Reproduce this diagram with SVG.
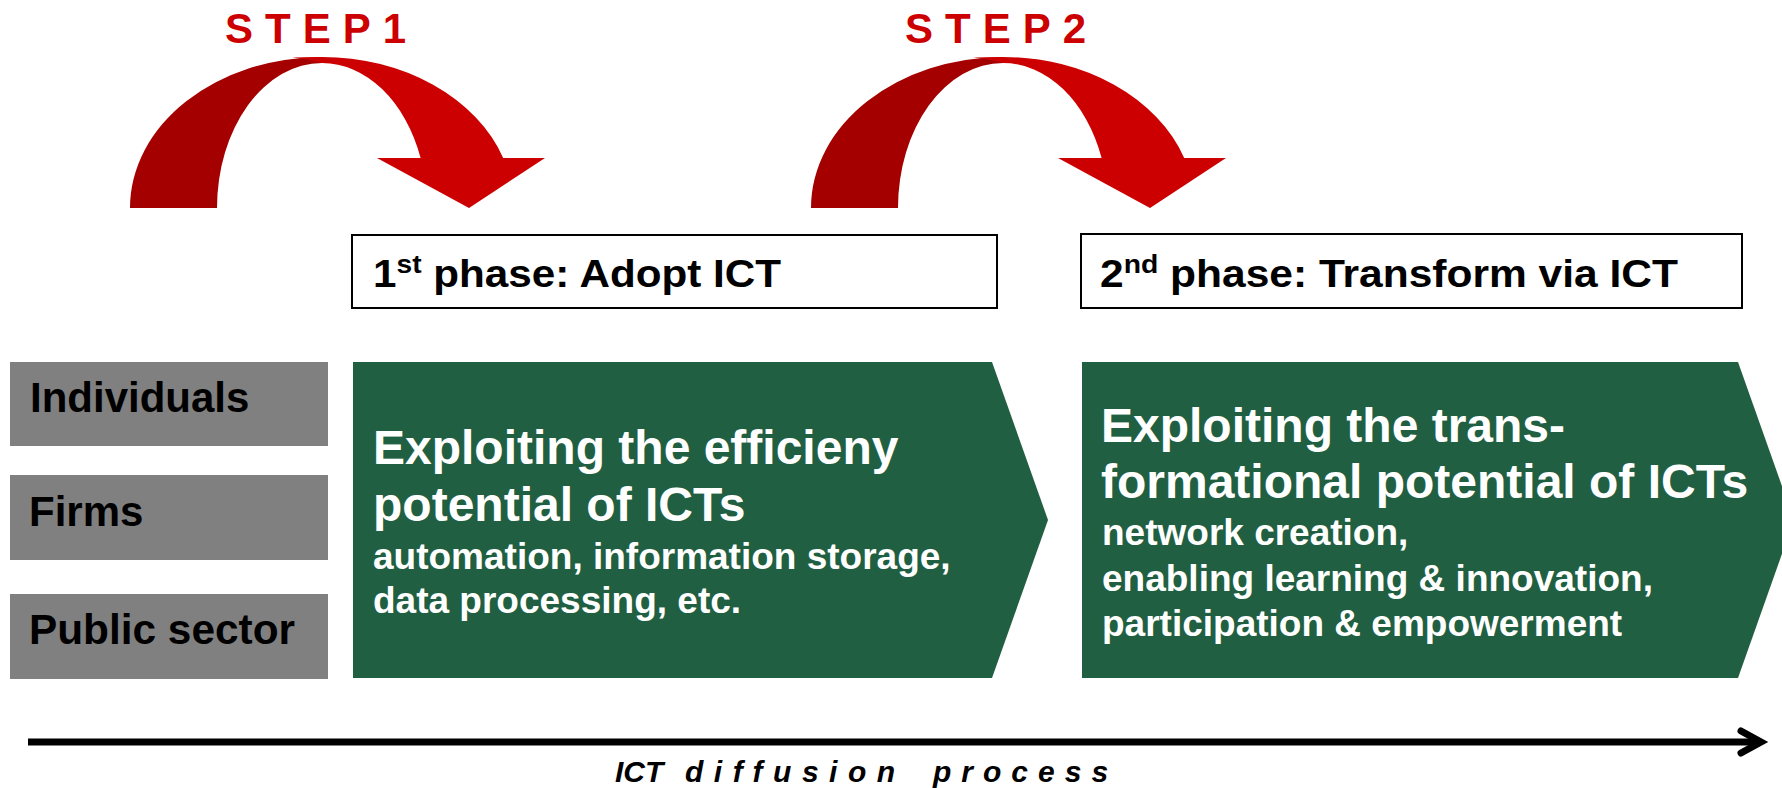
<svg xmlns="http://www.w3.org/2000/svg" width="1782" height="788" viewBox="0 0 1782 788">
<defs>
<style>
.step{font-family:"Liberation Sans",Arial,sans-serif;font-weight:bold;font-size:42px;fill:#CC0000;letter-spacing:12px}
.phase{font-family:"Liberation Sans",Arial,sans-serif;font-weight:bold;font-size:39px;fill:#000}
.phasebox{fill:#fff;stroke:#000;stroke-width:2}
.grey{fill:#808080}
.glabel{font-family:"Liberation Sans",Arial,sans-serif;font-weight:bold;font-size:42px;fill:#000}
.green{fill:#215F42}
.big{font-family:"Liberation Sans",Arial,sans-serif;font-weight:bold;font-size:48px;fill:#fff}
.small{font-family:"Liberation Sans",Arial,sans-serif;font-weight:bold;font-size:37px;fill:#fff}
.dark{fill:#A40000}
.red{fill:#CC0000}
.axis{font-family:"Liberation Sans",Arial,sans-serif;font-weight:bold;font-style:italic;font-size:30px;fill:#000}
</style>
<g id="curvedArrow">
<path class="dark" d="M130,208 A192,151 0 0 1 322,57 L322,63 A105,145 0 0 0 217,208 Z"/>
<path class="red" d="M292,57.6 Q308,57 322,57 A192,151 0 0 1 503.2,158 L545,158 L469,208 L377,158 L420.6,158 A105,145 0 0 0 322,63 Q307,58.5 292,57.6 Z"/>
</g>
</defs>

<g id="step1">
<text class="step" x="225" y="43">STEP1</text>
<use href="#curvedArrow"/>
</g>

<g id="step2">
<text class="step" x="905" y="43">STEP2</text>
<use href="#curvedArrow" transform="translate(681,0)"/>
</g>

<g id="phase1">
<rect class="phasebox" x="352" y="235" width="645" height="73"/>
<text class="phase" x="373" y="287" textLength="408" lengthAdjust="spacingAndGlyphs">1<tspan font-size="26" dy="-14">st</tspan><tspan dy="14"> phase: Adopt ICT</tspan></text>
</g>

<g id="phase2">
<rect class="phasebox" x="1081" y="234" width="661" height="74"/>
<text class="phase" x="1100" y="287" textLength="578" lengthAdjust="spacingAndGlyphs">2<tspan font-size="26" dy="-14">nd</tspan><tspan dy="14"> phase: Transform via ICT</tspan></text>
</g>

<g id="individuals">
<rect class="grey" x="10" y="362" width="318" height="84"/>
<text class="glabel" x="30" y="412">Individuals</text>
</g>
<g id="firms">
<rect class="grey" x="10" y="475" width="318" height="85"/>
<text class="glabel" x="29" y="526">Firms</text>
</g>
<g id="public">
<rect class="grey" x="10" y="594" width="318" height="85"/>
<text class="glabel" x="29" y="644" textLength="266" lengthAdjust="spacingAndGlyphs">Public sector</text>
</g>

<g id="efficiency">
<polygon class="green" points="353,362 992,362 1048,520 992,678 353,678"/>
<text class="big" x="373" y="464">Exploiting the efficieny</text>
<text class="big" x="373" y="521">potential of ICTs</text>
<text class="small" x="373" y="569">automation, information storage,</text>
<text class="small" x="373" y="613">data processing, etc.</text>
</g>

<g id="transformation">
<polygon class="green" points="1082,362 1738,362 1794,520 1738,678 1082,678"/>
<text class="big" x="1101" y="442">Exploiting the trans-</text>
<text class="big" x="1101" y="498">formational potential of ICTs</text>
<text class="small" x="1102" y="545">network creation,</text>
<text class="small" x="1102" y="591">enabling learning &amp; innovation,</text>
<text class="small" x="1102" y="636">participation &amp; empowerment</text>
</g>

<g id="connectors">
<line x1="28" y1="742" x2="1758" y2="742" stroke="#000" stroke-width="7"/>
<polyline points="1741,731 1761,742 1741,753" fill="none" stroke="#000" stroke-width="7" stroke-linecap="round" stroke-linejoin="miter"/>
</g>

<g id="axislabel">
<text class="axis" y="782"><tspan x="615">ICT</tspan><tspan x="685" letter-spacing="10.5">diffusion</tspan><tspan x="933" letter-spacing="10">process</tspan></text>
</g>
</svg>
